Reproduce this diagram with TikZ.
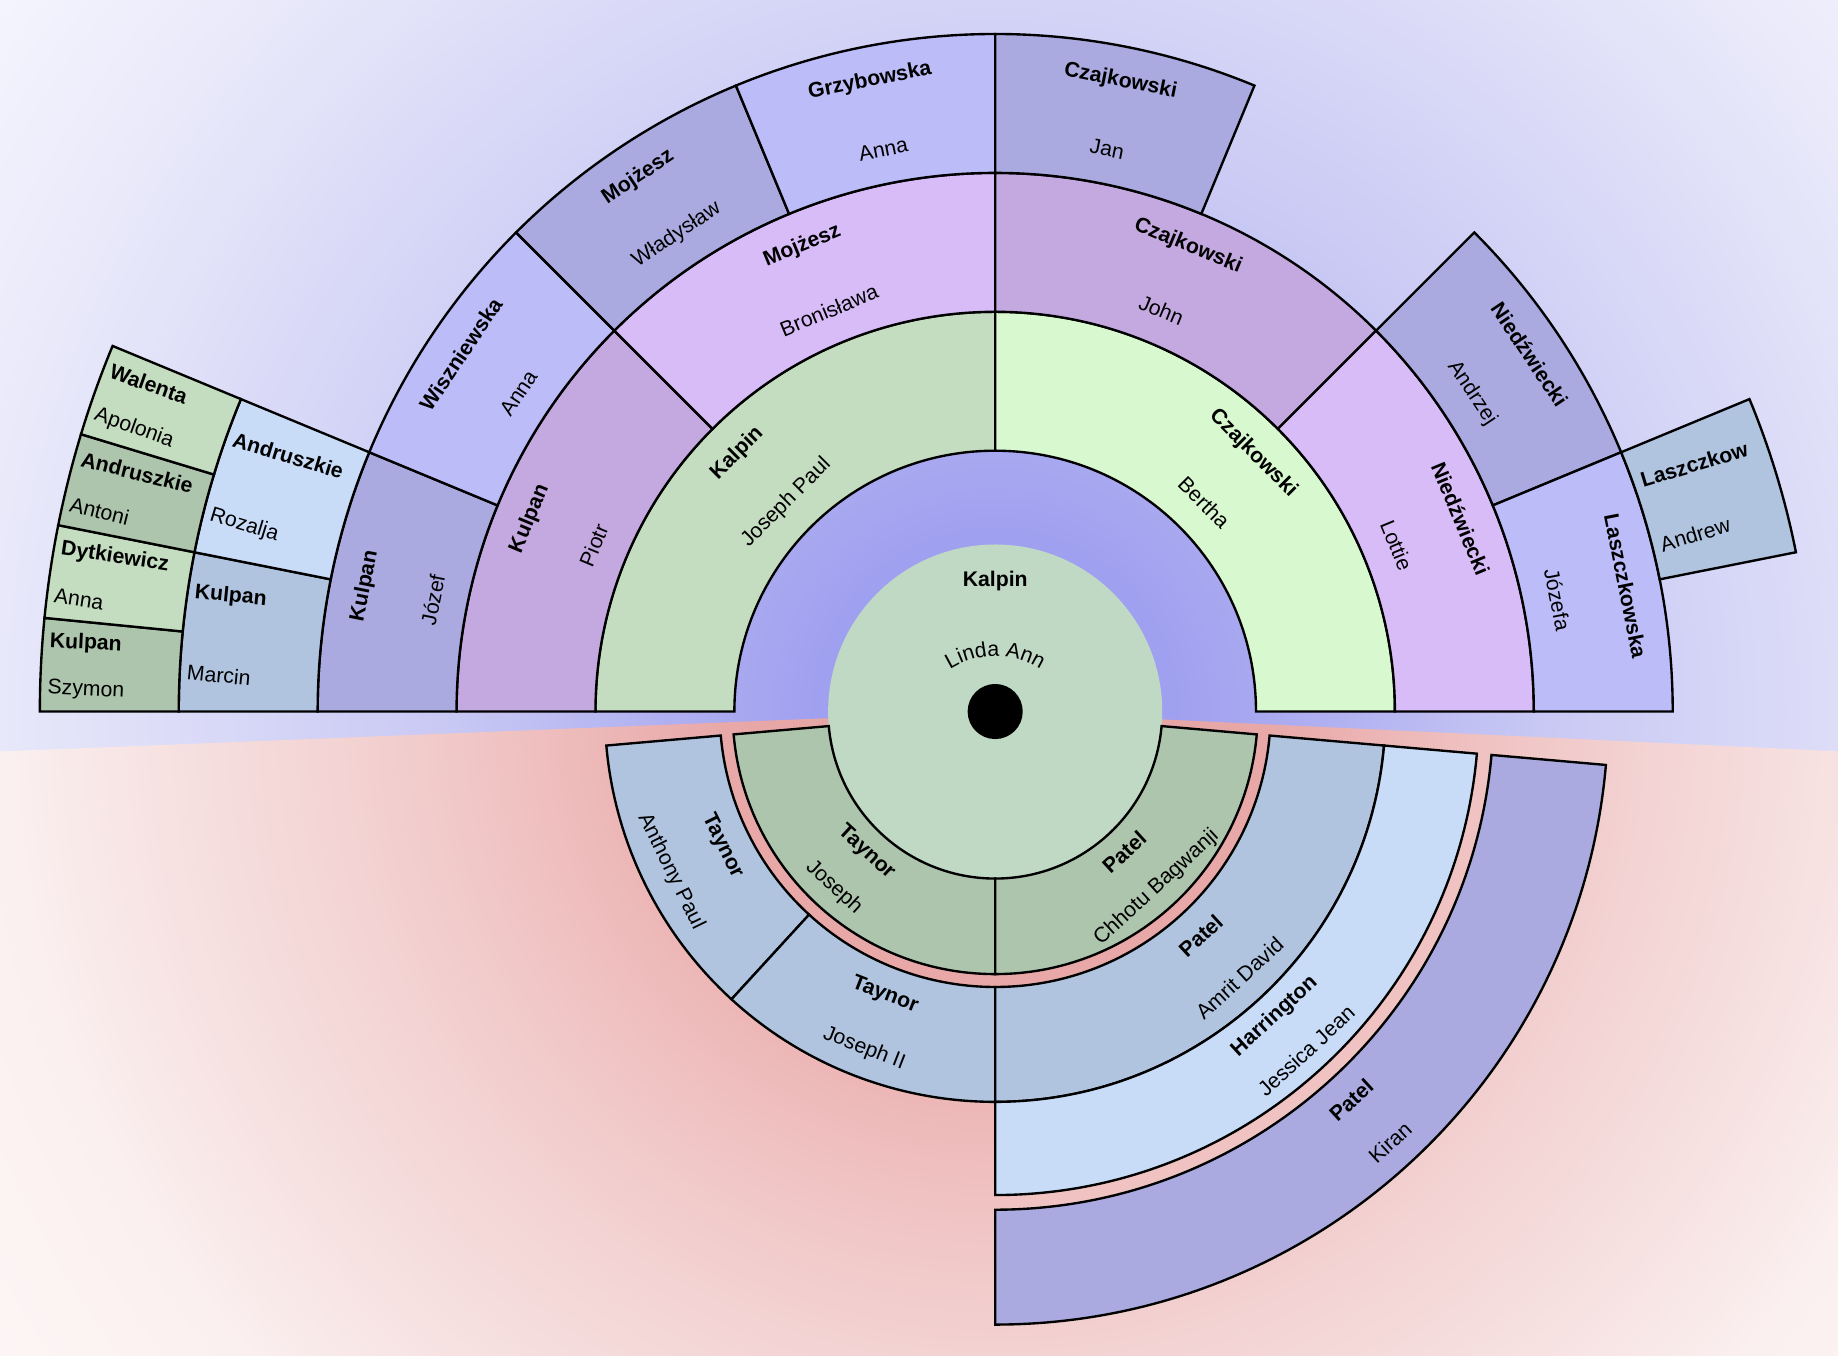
\documentclass[tikz,border=0pt]{standalone}
\usepackage{fontspec}
\setmainfont{Liberation Sans}
\usetikzlibrary{decorations.text}

\definecolor{topA}{HTML}{A0A0F0}
\definecolor{topB}{HTML}{A8A8F0}
\definecolor{topC}{HTML}{C8C8F4}
\definecolor{topD}{HTML}{DCDCF8}
\definecolor{topE}{HTML}{E8E8FA}
\definecolor{topF}{HTML}{F8F8FF}
\definecolor{pinkA}{HTML}{E6A2A2}
\definecolor{pinkB}{HTML}{E8A8A8}
\definecolor{pinkC}{HTML}{F0C2C2}
\definecolor{pinkD}{HTML}{F3D2D2}
\definecolor{pinkE}{HTML}{F7E2E2}
\definecolor{pinkF}{HTML}{FBF0F0}
\definecolor{pinkG}{HTML}{FEF8F8}
\definecolor{centre}{HTML}{C0D9C4}
\definecolor{greenA}{HTML}{C4DCC0}
\definecolor{greenB}{HTML}{D8F8D0}
\definecolor{greenC}{HTML}{ADC4AD}
\definecolor{purpleA}{HTML}{C4A8E0}
\definecolor{purpleB}{HTML}{D8BCF8}
\definecolor{blueA}{HTML}{AAAAE0}
\definecolor{blueB}{HTML}{BCBCF8}
\definecolor{steelA}{HTML}{B0C4E0}
\definecolor{steelB}{HTML}{C8DCF8}

\pgfdeclareradialshading{topglow}{\pgfpoint{0bp}{0bp}}{color(0bp)=(topA); color(3.5bp)=(topA); color(5bp)=(topB); color(10.5bp)=(topC); color(16bp)=(topD); color(19.3bp)=(topE); color(25bp)=(topF); color(50bp)=(topF)}
\pgfdeclareradialshading{pinkglow}{\pgfpoint{0bp}{0bp}}{color(0bp)=(pinkA); color(5.25bp)=(pinkB); color(9.45bp)=(pinkC); color(12.5bp)=(pinkD); color(16.35bp)=(pinkE); color(19.3bp)=(pinkF); color(25bp)=(pinkG); color(50bp)=(pinkG)}

\newcommand{\namesize}{\fontsize{10.3}{12}\selectfont}

\tikzset{
  cellline/.style={draw=black, line width=1.15pt},
  sname/.style={font=\namesize\bfseries, inner sep=0pt},
  gname/.style={font=\namesize, inner sep=0pt}
}

% from, to, inner radius, outer radius, fill
\newcommand{\sector}[5]{\filldraw[cellline, fill=#5] (#1:#3) arc[start angle=#1, end angle=#2, radius=#3] -- (#2:#4) arc[start angle=#2, end angle=#1, radius=#4] -- cycle;}

% from, to, rin, rout, fill, surname, given name, node name
\newcommand{\upcell}[8]{\sector{#1}{#2}{#3}{#4}{#5}
  \pgfmathsetmacro\cmid{(#1+#2)/2}
  \pgfmathsetmacro\rsur{#3+0.75*(#4-#3)}
  \pgfmathsetmacro\rgiv{#3+0.25*(#4-#3)}
  \node[sname, rotate=\cmid-90] (#8-s) at (\cmid:\rsur) {#6};
  \node[gname, rotate=\cmid-90] (#8-g) at (\cmid:\rgiv) {#7};}
\newcommand{\downcell}[8]{\sector{#1}{#2}{#3}{#4}{#5}
  \pgfmathsetmacro\cmid{(#1+#2)/2}
  \pgfmathsetmacro\rsur{#3+0.25*(#4-#3)}
  \pgfmathsetmacro\rgiv{#3+0.75*(#4-#3)}
  \node[sname, rotate=\cmid+90] (#8-s) at (\cmid:\rsur) {#6};
  \node[gname, rotate=\cmid+90] (#8-g) at (\cmid:\rgiv) {#7};}
\newcommand{\leftcell}[8]{\sector{#1}{#2}{#3}{#4}{#5}
  \pgfmathsetmacro\cmid{(#1+#2)/2}
  \pgfmathsetmacro\dq{(#2-#1)/4}
  \pgfmathsetmacro\rpos{#4-6}
  \node[sname, anchor=west, rotate=\cmid-180] (#8-s) at (\cmid-\dq:\rpos) {#6};
  \node[gname, anchor=west, rotate=\cmid-180] (#8-g) at (\cmid+\dq:\rpos) {#7};}
\newcommand{\rightcell}[8]{\sector{#1}{#2}{#3}{#4}{#5}
  \pgfmathsetmacro\cmid{(#1+#2)/2}
  \pgfmathsetmacro\dq{(#2-#1)/4}
  \pgfmathsetmacro\rpos{#3+7}
  \node[sname, anchor=west, rotate=\cmid] (#8-s) at (\cmid+\dq:\rpos) {#6};
  \node[gname, anchor=west, rotate=\cmid] (#8-g) at (\cmid-\dq:\rpos) {#7};}

\begin{document}
\begin{tikzpicture}[x=0.02cm, y=0.02cm]
\useasboundingbox (-849,-549) rectangle (719,607);
\begin{scope}
  \clip (-849,-549) rectangle (719,607);
  \shade[shading=topglow] (0,0) circle[radius=1100];
  \clip (0,0) -- (-2.7:1200) -- (1000,-800) -- (-1000,-800) -- (-177.7:1200) -- cycle;
  \shade[shading=pinkglow] (0,0) circle[radius=1100];
\end{scope}
\fill[centre] (0,0) circle[radius=142.5];

\upcell{90}{180}{222.5}{341}{greenA}{Kalpin}{Joseph Paul}{josephpaul}
\upcell{0}{90}{222.5}{341}{greenB}{Czajkowski}{Bertha}{bertha}
\upcell{135}{180}{341}{459.5}{purpleA}{Kulpan}{Piotr}{piotr}
\upcell{90}{135}{341}{459.5}{purpleB}{Mojżesz}{Bronisława}{bronislawa}
\upcell{45}{90}{341}{459.5}{purpleA}{Czajkowski}{John}{john}
\upcell{0}{45}{341}{459.5}{purpleB}{Niedźwiecki}{Lottie}{lottie}
\upcell{157.5}{180}{459.5}{578}{blueA}{Kulpan}{Józef}{jozef}
\upcell{135}{157.5}{459.5}{578}{blueB}{Wiszniewska}{Anna}{annaw}
\upcell{112.5}{135}{459.5}{578}{blueA}{Mojżesz}{Władysław}{wladyslaw}
\upcell{90}{112.5}{459.5}{578}{blueB}{Grzybowska}{Anna}{annag}
\upcell{67.5}{90}{459.5}{578}{blueA}{Czajkowski}{Jan}{jan}
\upcell{22.5}{45}{459.5}{578}{blueA}{Niedźwiecki}{Andrzej}{andrzej}
\upcell{0}{22.5}{459.5}{578}{blueB}{Laszczkowska}{Józefa}{jozefa}
\leftcell{168.75}{180}{578}{696.5}{steelA}{Kulpan}{Marcin}{marcin}
\leftcell{157.5}{168.75}{578}{696.5}{steelB}{Andruszkie}{Rozalja}{rozalja}
\rightcell{11.25}{22.5}{578}{696.5}{steelA}{Laszczkow}{Andrew}{andrew}
\leftcell{174.375}{180}{696.5}{815}{greenC}{Kulpan}{Szymon}{szymon}
\leftcell{168.75}{174.375}{696.5}{815}{greenA}{Dytkiewicz}{Anna}{annad}
\leftcell{163.125}{168.75}{696.5}{815}{greenC}{Andruszkie}{Antoni}{antoni}
\leftcell{157.5}{163.125}{696.5}{815}{greenA}{Walenta}{Apolonia}{apolonia}

\downcell{-175}{-90}{142.5}{224}{greenC}{Taynor}{Joseph}{joseph}
\downcell{-90}{-5}{142.5}{224}{greenC}{Patel}{Chhotu Bagwanji}{chhotu}
\downcell{-175}{-132.5}{235}{333}{steelA}{Taynor}{Anthony Paul}{anthony}
\downcell{-132.5}{-90}{235}{333}{steelA}{Taynor}{Joseph II}{josephii}
\downcell{-90}{-5}{235}{333}{steelA}{Patel}{Amrit David}{amrit}
\downcell{-90}{-5}{333}{412.5}{steelB}{Harrington}{Jessica Jean}{jessica}
\downcell{-90}{-5}{425}{523}{blueA}{Patel}{Kiran}{kiran}

\node[sname] (linda-s) at (0,111) {Kalpin};
\path[decorate, decoration={text along path, text={|\namesize|Linda Ann}, text align=center}] ([shift={(0,-25)}]150:72) arc[start angle=150, end angle=30, radius=72];
\fill (0,0) circle[radius=23.5];
\end{tikzpicture}
\end{document}
